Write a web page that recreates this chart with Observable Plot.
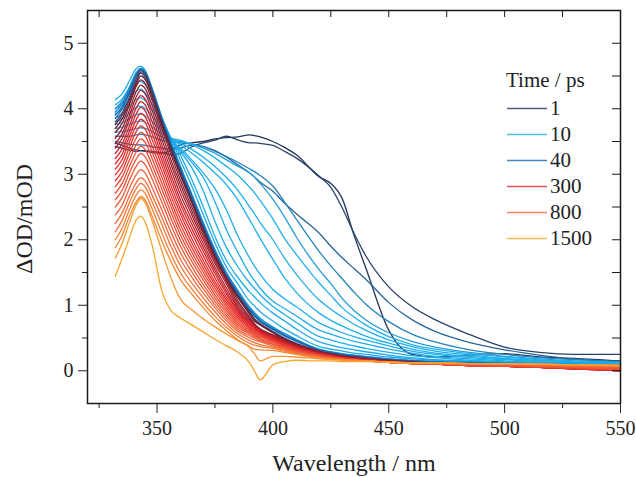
<!DOCTYPE html>
<html><head><meta charset="utf-8">
<script src="https://cdn.jsdelivr.net/npm/d3@7"></script>
<script src="https://cdn.jsdelivr.net/npm/@observablehq/plot@0.6"></script>
<style>body{margin:0;background:#fff;}</style>
</head><body><div id="chart"></div>
<script>
// Wavelength grid (nm) shared by all spectra
const wavelengths = [332,335,338,341,343,345,348,352,356,360,365,370,375,380,385,390,392,394.5,400,405,410,420,425,430,435,440,450,460,470,485,500,515,530,550];

// ΔOD (mOD) spectra, named by estimated delay (ps)
const ps1 = [3.47,3.44,3.40,3.37,3.36,3.35,3.33,3.32,3.36,3.45,3.48,3.50,3.54,3.56,3.57,3.60,3.59,3.57,3.50,3.41,3.30,2.96,2.86,2.62,2.07,1.58,0.62,0.25,0.21,0.24,0.26,0.21,0.19,0.15];
const ps2 = [3.42,3.40,3.37,3.35,3.36,3.36,3.35,3.33,3.30,3.32,3.42,3.48,3.52,3.58,3.52,3.48,3.48,3.47,3.44,3.35,3.25,2.97,2.80,2.48,2.10,1.76,1.28,0.98,0.78,0.55,0.36,0.28,0.25,0.25];
const ps3 = [3.50,3.48,3.46,3.45,3.45,3.44,3.42,3.40,3.38,3.40,3.44,3.42,3.36,3.26,3.14,3.02,2.96,2.88,2.74,2.56,2.40,2.10,1.90,1.72,1.56,1.40,1.04,0.78,0.60,0.43,0.32,0.24,0.18,0.14];
const ps4 = [3.58,3.58,3.58,3.60,3.61,3.60,3.57,3.52,3.50,3.48,3.46,3.42,3.35,3.27,3.18,3.08,3.04,2.98,2.82,2.58,2.32,1.82,1.60,1.40,1.20,1.02,0.75,0.56,0.44,0.32,0.25,0.20,0.17,0.14];
const ps5 = [3.64,3.65,3.67,3.70,3.71,3.70,3.65,3.57,3.52,3.50,3.46,3.40,3.32,3.22,3.12,3.02,2.96,2.86,2.62,2.35,2.05,1.54,1.33,1.10,0.92,0.78,0.58,0.45,0.36,0.28,0.22,0.18,0.15,0.13];
const ps6 = [3.70,3.72,3.76,3.80,3.81,3.79,3.72,3.62,3.55,3.52,3.45,3.36,3.25,3.12,2.98,2.80,2.72,2.60,2.32,2.02,1.78,1.34,1.15,0.96,0.82,0.70,0.52,0.40,0.33,0.26,0.21,0.17,0.14,0.12];
const ps7 = [3.76,3.79,3.85,3.91,3.92,3.89,3.80,3.66,3.55,3.48,3.38,3.26,3.12,2.95,2.75,2.50,2.40,2.26,2.00,1.72,1.48,1.08,0.94,0.82,0.71,0.62,0.47,0.37,0.30,0.24,0.19,0.16,0.14,0.12];
const ps8 = [3.80,3.85,3.93,4.02,4.04,4.00,3.88,3.70,3.54,3.45,3.32,3.18,3.02,2.84,2.60,2.30,2.18,2.02,1.70,1.42,1.20,0.88,0.77,0.68,0.60,0.53,0.42,0.33,0.27,0.22,0.18,0.15,0.13,0.11];
const ps9 = [3.86,3.92,4.03,4.14,4.17,4.12,3.98,3.74,3.52,3.40,3.22,3.02,2.78,2.45,2.05,1.72,1.60,1.47,1.24,1.10,0.98,0.73,0.65,0.58,0.52,0.47,0.38,0.30,0.25,0.20,0.17,0.14,0.12,0.11];
const ps10 = [3.92,4.00,4.13,4.27,4.30,4.24,4.06,3.78,3.55,3.38,3.18,2.95,2.58,2.15,1.80,1.48,1.38,1.26,1.06,0.95,0.84,0.62,0.56,0.50,0.45,0.41,0.33,0.27,0.22,0.18,0.15,0.13,0.12,0.10];
const ps12 = [4.00,4.08,4.22,4.38,4.42,4.36,4.14,3.82,3.55,3.35,3.10,2.74,2.28,1.88,1.58,1.34,1.26,1.16,0.98,0.86,0.74,0.52,0.47,0.42,0.38,0.34,0.28,0.23,0.20,0.16,0.14,0.12,0.11,0.10];
const ps15 = [4.06,4.15,4.32,4.50,4.54,4.47,4.22,3.85,3.55,3.30,2.92,2.50,2.05,1.68,1.42,1.20,1.13,1.04,0.88,0.76,0.64,0.44,0.39,0.35,0.32,0.29,0.24,0.20,0.17,0.15,0.13,0.12,0.11,0.10];
const ps20 = [4.14,4.23,4.42,4.61,4.65,4.58,4.30,3.88,3.55,3.22,2.82,2.38,1.95,1.58,1.32,1.06,0.99,0.90,0.76,0.64,0.54,0.37,0.33,0.30,0.27,0.25,0.21,0.18,0.16,0.14,0.13,0.12,0.11,0.10];
const ps25 = [4.00,4.12,4.32,4.55,4.62,4.56,4.30,3.88,3.50,3.13,2.70,2.26,1.85,1.50,1.22,0.97,0.89,0.80,0.67,0.57,0.48,0.33,0.29,0.26,0.24,0.22,0.18,0.16,0.14,0.13,0.12,0.11,0.10,0.09];
const ps30 = [3.95,4.08,4.29,4.53,4.61,4.55,4.28,3.86,3.48,3.11,2.68,2.24,1.83,1.48,1.20,0.95,0.87,0.78,0.65,0.55,0.47,0.32,0.28,0.25,0.23,0.21,0.18,0.15,0.14,0.12,0.11,0.10,0.09,0.08];
const ps35 = [3.90,4.04,4.26,4.51,4.60,4.54,4.27,3.85,3.46,3.09,2.66,2.22,1.81,1.46,1.18,0.93,0.85,0.76,0.64,0.54,0.46,0.32,0.28,0.25,0.23,0.21,0.17,0.15,0.13,0.12,0.11,0.10,0.09,0.08];
const ps40 = [3.85,4.00,4.23,4.49,4.60,4.54,4.26,3.84,3.44,3.07,2.64,2.20,1.79,1.44,1.16,0.92,0.84,0.75,0.63,0.53,0.45,0.31,0.27,0.24,0.22,0.20,0.17,0.15,0.13,0.12,0.11,0.10,0.08,0.07];
const ps60 = [3.80,3.94,4.17,4.45,4.58,4.52,4.25,3.82,3.42,3.05,2.62,2.18,1.78,1.43,1.15,0.90,0.80,0.72,0.60,0.50,0.42,0.30,0.26,0.23,0.21,0.19,0.16,0.14,0.12,0.10,0.09,0.08,0.07,0.05];
const ps80 = [3.76,3.90,4.13,4.41,4.55,4.49,4.22,3.79,3.39,3.02,2.59,2.15,1.76,1.41,1.13,0.88,0.78,0.71,0.59,0.49,0.41,0.30,0.26,0.23,0.21,0.19,0.16,0.13,0.12,0.10,0.09,0.07,0.06,0.04];
const ps100 = [3.70,3.85,4.08,4.37,4.50,4.44,4.18,3.76,3.36,2.99,2.56,2.13,1.74,1.39,1.11,0.86,0.76,0.70,0.58,0.48,0.41,0.29,0.25,0.22,0.20,0.18,0.15,0.13,0.11,0.10,0.08,0.07,0.05,0.04];
const ps130 = [3.64,3.78,4.05,4.34,4.44,4.38,4.12,3.70,3.30,2.92,2.50,2.10,1.72,1.40,1.06,0.82,0.72,0.64,0.55,0.47,0.40,0.29,0.25,0.22,0.20,0.18,0.15,0.13,0.11,0.09,0.08,0.06,0.05,0.03];
const ps150 = [3.55,3.70,3.97,4.26,4.36,4.30,4.04,3.62,3.22,2.85,2.44,2.05,1.68,1.36,1.02,0.80,0.71,0.63,0.54,0.46,0.39,0.28,0.25,0.22,0.20,0.18,0.15,0.12,0.11,0.09,0.07,0.06,0.04,0.02];
const ps170 = [3.47,3.62,3.89,4.18,4.28,4.22,3.96,3.54,3.15,2.78,2.38,2.00,1.64,1.32,0.98,0.78,0.70,0.62,0.53,0.45,0.38,0.28,0.24,0.21,0.19,0.17,0.14,0.12,0.10,0.08,0.07,0.05,0.03,0.01];
const ps200 = [3.40,3.55,3.82,4.10,4.20,4.14,3.88,3.46,3.07,2.70,2.31,1.94,1.58,1.26,0.95,0.76,0.69,0.61,0.52,0.44,0.37,0.27,0.24,0.21,0.19,0.17,0.14,0.12,0.10,0.08,0.07,0.05,0.03,0.01];
const ps230 = [3.32,3.47,3.73,4.01,4.11,4.05,3.79,3.38,2.99,2.62,2.24,1.88,1.53,1.21,0.92,0.74,0.68,0.60,0.51,0.43,0.36,0.26,0.23,0.20,0.18,0.17,0.14,0.12,0.10,0.08,0.07,0.05,0.03,0.00];
const ps260 = [3.24,3.39,3.65,3.92,4.02,3.96,3.70,3.30,2.91,2.55,2.17,1.82,1.48,1.17,0.90,0.72,0.66,0.59,0.50,0.42,0.35,0.26,0.23,0.20,0.18,0.16,0.14,0.12,0.10,0.08,0.07,0.05,0.03,0.00];
const ps300 = [3.16,3.31,3.57,3.83,3.93,3.87,3.61,3.22,2.83,2.47,2.10,1.75,1.42,1.12,0.87,0.70,0.65,0.58,0.49,0.41,0.35,0.25,0.22,0.20,0.18,0.16,0.13,0.11,0.10,0.08,0.07,0.05,0.03,0.00];
const ps340 = [3.08,3.23,3.49,3.74,3.84,3.78,3.52,3.14,2.75,2.40,2.02,1.68,1.36,1.08,0.84,0.68,0.63,0.57,0.48,0.41,0.34,0.25,0.22,0.19,0.17,0.16,0.13,0.11,0.10,0.08,0.07,0.05,0.03,0.00];
const ps380 = [2.99,3.14,3.40,3.65,3.74,3.68,3.42,3.05,2.67,2.32,1.95,1.62,1.31,1.04,0.81,0.66,0.61,0.56,0.47,0.40,0.34,0.25,0.22,0.19,0.17,0.15,0.13,0.11,0.10,0.08,0.07,0.05,0.04,0.01];
const ps420 = [2.90,3.05,3.31,3.55,3.64,3.58,3.33,2.96,2.59,2.24,1.88,1.56,1.26,1.00,0.78,0.64,0.59,0.55,0.46,0.39,0.33,0.24,0.21,0.19,0.17,0.15,0.13,0.11,0.10,0.08,0.07,0.05,0.04,0.01];
const ps470 = [2.81,2.96,3.21,3.45,3.54,3.48,3.23,2.87,2.51,2.16,1.81,1.50,1.21,0.96,0.75,0.62,0.58,0.54,0.45,0.38,0.32,0.24,0.21,0.18,0.16,0.15,0.13,0.11,0.10,0.08,0.07,0.06,0.04,0.02];
const ps520 = [2.71,2.86,3.11,3.34,3.43,3.37,3.13,2.78,2.42,2.08,1.74,1.44,1.16,0.92,0.72,0.60,0.56,0.52,0.44,0.37,0.31,0.23,0.20,0.18,0.16,0.15,0.13,0.11,0.10,0.08,0.07,0.06,0.04,0.02];
const ps580 = [2.61,2.76,3.01,3.23,3.32,3.26,3.03,2.68,2.33,2.00,1.67,1.38,1.11,0.88,0.69,0.58,0.54,0.50,0.42,0.36,0.30,0.23,0.20,0.18,0.16,0.15,0.13,0.11,0.10,0.09,0.08,0.06,0.05,0.03];
const ps640 = [2.50,2.65,2.90,3.12,3.20,3.14,2.92,2.58,2.23,1.91,1.59,1.31,1.06,0.84,0.66,0.56,0.52,0.48,0.41,0.35,0.30,0.22,0.20,0.18,0.16,0.15,0.13,0.11,0.10,0.09,0.08,0.07,0.05,0.04];
const ps700 = [2.38,2.53,2.78,2.99,3.07,3.01,2.79,2.46,2.12,1.81,1.51,1.25,1.01,0.80,0.63,0.53,0.50,0.46,0.40,0.34,0.29,0.22,0.19,0.17,0.16,0.15,0.13,0.12,0.11,0.10,0.09,0.08,0.06,0.05];
const ps800 = [2.25,2.41,2.66,2.87,2.95,2.89,2.67,2.35,2.01,1.71,1.43,1.18,0.96,0.76,0.60,0.50,0.47,0.44,0.38,0.33,0.28,0.21,0.19,0.17,0.16,0.15,0.13,0.12,0.11,0.10,0.09,0.08,0.07,0.06];
const ps900 = [2.12,2.30,2.56,2.78,2.86,2.80,2.57,2.24,1.90,1.61,1.34,1.11,0.90,0.71,0.56,0.46,0.43,0.40,0.36,0.31,0.27,0.21,0.19,0.17,0.16,0.15,0.13,0.12,0.11,0.10,0.10,0.09,0.08,0.07];
const ps1000 = [2.00,2.18,2.45,2.68,2.76,2.70,2.46,2.11,1.78,1.50,1.25,1.03,0.83,0.66,0.52,0.42,0.39,0.37,0.34,0.30,0.26,0.20,0.18,0.17,0.16,0.15,0.13,0.12,0.12,0.11,0.10,0.10,0.09,0.08];
const ps1100 = [1.88,2.07,2.35,2.58,2.66,2.60,2.35,1.99,1.67,1.40,1.17,0.96,0.77,0.61,0.47,0.37,0.33,0.32,0.31,0.28,0.25,0.19,0.18,0.17,0.16,0.15,0.13,0.12,0.12,0.11,0.11,0.10,0.09,0.08];
const ps1300 = [1.72,1.95,2.25,2.53,2.63,2.56,2.28,1.84,1.42,1.10,0.93,0.79,0.67,0.56,0.46,0.35,0.26,0.15,0.22,0.22,0.21,0.18,0.17,0.16,0.15,0.15,0.13,0.12,0.12,0.11,0.11,0.10,0.09,0.08];
const ps1500 = [1.44,1.72,2.02,2.30,2.36,2.26,1.90,1.23,0.92,0.81,0.70,0.59,0.48,0.38,0.28,0.12,0.00,-0.14,0.09,0.14,0.16,0.15,0.15,0.14,0.14,0.14,0.13,0.12,0.12,0.11,0.11,0.10,0.09,0.08];

const delays = [1,2,3,4,5,6,7,8,9,10,12,15,20,25,30,35,40,60,80,100,130,150,170,200,230,260,300,340,380,420,470,520,580,640,700,800,900,1000,1100,1300,1500];
const spectra = [ps1,ps2,ps3,ps4,ps5,ps6,ps7,ps8,ps9,ps10,ps12,ps15,ps20,ps25,ps30,ps35,ps40,ps60,ps80,ps100,ps130,ps150,ps170,ps200,ps230,ps260,ps300,ps340,ps380,ps420,ps470,ps520,ps580,ps640,ps700,ps800,ps900,ps1000,ps1100,ps1300,ps1500];

// Axis ticks
const xMajor = [350,400,450,500,550];
const xMinor = [325,375,425,475,525];
const yMajor = [0,1,2,3,4,5];
const yMinor = [0.5,1.5,2.5,3.5,4.5];

// Legend
const legendTitle = "Time / ps";
const legendTimes = [1,10,40,300,800,1500];

// Colour ramp over delay (log time)
const color = d3.scaleLog()
  .domain([1,2.2,6,20,40,100,300,800,1500])
  .range(["#24345a","#2c4370","#1fb0ee","#1eaae8","#1766ad","#6b1f30","#e4242a","#f2693c","#f8a52c"])
  .interpolate(d3.interpolateRgb).clamp(true);

const serif = "Liberation Serif, DejaVu Serif, serif";
const W = 636, H = 477, mL = 87, mR = 16, mT = 10, mB = 74;
const innerW = W - mL - mR, innerH = H - mT - mB;

const lineMarks = spectra.map((vals, i) =>
  Plot.line(vals.map((v, j) => ({wl: wavelengths[j], v})),
    {x: "wl", y: "v", stroke: color(delays[i]), strokeWidth: 1.3, curve: "monotone-x"}));

const chart = Plot.plot({
  width: W, height: H,
  marginLeft: mL, marginRight: mR, marginTop: mT, marginBottom: mB,
  style: {fontFamily: serif, background: "white", color: "#222"},
  x: {domain: [320, 550]},
  y: {domain: [-0.5, 5.5]},
  marks: [
    ...lineMarks,
    Plot.frame({stroke: "#1a1a1a", strokeWidth: 1.5}),
    Plot.axisX(xMajor, {anchor: "bottom", tickSize: 10, tickPadding: 7, fontSize: 20, label: null, tickFormat: d => String(d)}),
    Plot.axisX(xMinor, {anchor: "bottom", tickSize: 5, label: null, tickFormat: () => ""}),
    Plot.axisY(yMajor, {anchor: "left", tickSize: 9, tickPadding: 5, fontSize: 20, label: null, tickFormat: d => String(d)}),
    Plot.axisY(yMinor, {anchor: "left", tickSize: 5, label: null, tickFormat: () => ""}),
    Plot.tickX([...xMinor, ...xMajor], {x: d => d, insetBottom: innerH - 7, stroke: "#1a1a1a"}),
    Plot.tickY([...yMinor, ...yMajor], {y: d => d, insetLeft: innerW - 8, stroke: "#1a1a1a"}),
    Plot.text(["Wavelength / nm"], {frameAnchor: "bottom", textAnchor: "middle", lineAnchor: "middle", dy: 60, fontSize: 24, fill: "#222"}),
    Plot.text(["ΔOD/mOD"], {frameAnchor: "left", textAnchor: "middle", lineAnchor: "middle", rotate: -90, dx: -63, dy: 12, fontSize: 24, fill: "#222"})
  ]
});

// Legend inside the plot area
const svg = d3.select(chart);
const lg = svg.append("g").attr("font-family", serif).attr("font-size", 21)
  .attr("fill", "#222").attr("text-anchor", "start");
lg.append("text").attr("x", 506).attr("y", 87).text(legendTitle);
legendTimes.forEach((t, i) => {
  const y = 108.5 + i * 26;
  lg.append("line").attr("x1", 507).attr("x2", 547).attr("y1", y).attr("y2", y)
    .attr("stroke", color(t)).attr("stroke-width", 1.6).attr("stroke-opacity", 0.8);
  lg.append("text").attr("x", 550).attr("y", y + 6.8).text(String(t));
});

document.getElementById("chart").appendChild(chart);
</script>
</body></html>
